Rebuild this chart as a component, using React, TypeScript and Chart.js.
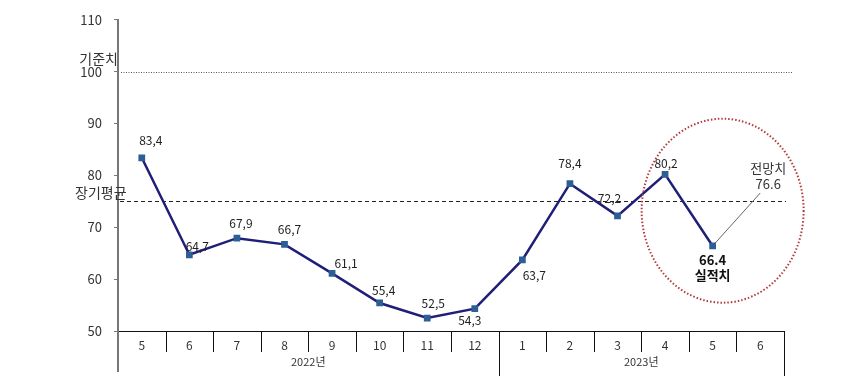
import React, { useEffect, useRef } from 'react';
import { Chart, registerables } from 'chart.js';
Chart.register(...registerables);

const months = ['5', '6', '7', '8', '9', '10', '11', '12', '1', '2', '3', '4', '5', '6'];
const yearGroups = [
  { label: '2022년', from: 0, to: 7 },
  { label: '2023년', from: 8, to: 13 },
];
const actual: (number | null)[] = [83.4, 64.7, 67.9, 66.7, 61.1, 55.4, 52.5, 54.3, 63.7, 78.4, 72.2, 80.2, 66.4, null];
const forecast: (number | null)[] = [null, null, null, null, null, null, null, null, null, null, null, null, 66.4, 76.6];
const actualLabels = ['83,4', '64,7', '67,9', '66,7', '61,1', '55,4', '52,5', '54,3', '63,7', '78,4', '72,2', '80,2', '66.4', ''];
const baselineValue = 100;
const longTermAvg = 75;
const yMin = 50;
const yMax = 110;
const yStep = 10;

// label offsets in px (style only)
const labelOffsets: [number, number][] = [
  [9, -17], [8, -8], [4, -15], [5, -15], [14, -10], [4, -13], [6, -15],
  [-5, 12], [12, 15], [0, -20], [-8, -17], [1, -11], [0, 14], [0, 0],
];

const FONT = '"Noto Sans CJK KR", "DejaVu Sans", sans-serif';

const overlay = {
  id: 'overlay',
  beforeDatasetsDraw(chart: any) {
    const { ctx, chartArea, scales } = chart;
    const y = scales.y;
    ctx.save();
    // baseline dotted
    ctx.strokeStyle = '#555';
    ctx.lineWidth = 1;
    ctx.setLineDash([1, 1.5]);
    const yb = Math.round(y.getPixelForValue(baselineValue)) + 0.5;
    ctx.beginPath();
    ctx.moveTo(chartArea.left + 3, yb);
    ctx.lineTo(chartArea.right + 8, yb);
    ctx.stroke();
    // long-term avg dashed
    ctx.strokeStyle = '#222';
    ctx.setLineDash([4, 3]);
    const ya = Math.round(y.getPixelForValue(longTermAvg)) + 0.5;
    ctx.beginPath();
    ctx.moveTo(chartArea.left + 2, ya);
    ctx.lineTo(chartArea.right + 2, ya);
    ctx.stroke();
    ctx.restore();
  },
  afterDraw(chart: any) {
    const { ctx, chartArea, scales } = chart;
    const x = scales.x;
    const y = scales.y;
    const n = months.length;
    const w = (chartArea.right - chartArea.left) / n;
    const bottom = chartArea.bottom;
    ctx.save();
    // y axis extension
    ctx.strokeStyle = '#777';
    ctx.lineWidth = 2;
    ctx.beginPath();
    ctx.moveTo(chartArea.left, bottom);
    ctx.lineTo(chartArea.left, 372);
    ctx.stroke();
    // category separators
    ctx.strokeStyle = '#111';
    ctx.lineWidth = 1;
    const yearBounds = yearGroups.map((g) => g.to + 1);
    for (let i = 1; i <= n; i++) {
      const xx = Math.round(chartArea.left + i * w) + 0.5;
      const longLine = yearBounds.includes(i);
      ctx.beginPath();
      ctx.moveTo(xx, bottom);
      ctx.lineTo(xx, longLine ? 376 : bottom + 21);
      ctx.stroke();
    }
    // year labels
    ctx.fillStyle = '#333';
    ctx.font = `11px ${FONT}`;
    ctx.textAlign = 'center';
    ctx.textBaseline = 'middle';
    yearGroups.forEach((g) => {
      const cx = chartArea.left + ((g.from + g.to + 1) / 2) * w;
      ctx.fillText(g.label, cx, 362);
    });
    // side labels
    ctx.font = `14px ${FONT}`;
    ctx.fillStyle = '#333';
    ctx.textAlign = 'right';
    ctx.fillText('기준치', chartArea.left, y.getPixelForValue(baselineValue) - 13);
    ctx.textAlign = 'left';
    ctx.fillText('장기평균', 75, y.getPixelForValue(longTermAvg) - 9);
    // data labels
    ctx.font = `12px ${FONT}`;
    ctx.fillStyle = '#222';
    ctx.textAlign = 'center';
    actual.forEach((v, i) => {
      if (v == null || i === 12) return;
      const px = x.getPixelForValue(i);
      const py = y.getPixelForValue(v);
      ctx.fillText(actualLabels[i], px + labelOffsets[i][0], py + labelOffsets[i][1]);
    });
    // highlighted actual
    const px12 = x.getPixelForValue(12);
    const py12 = y.getPixelForValue(actual[12] as number);
    ctx.font = `bold 13px ${FONT}`;
    ctx.fillStyle = '#111';
    ctx.fillText(actualLabels[12], px12, py12 + 14);
    ctx.fillText('실적치', px12, py12 + 29);
    // forecast label
    const px13 = x.getPixelForValue(13);
    const py13 = y.getPixelForValue(forecast[13] as number);
    ctx.font = `13px ${FONT}`;
    ctx.fillStyle = '#333';
    ctx.fillText('전망치', px13 + 8, py13 - 25);
    ctx.fillText(String(forecast[13]), px13 + 8, py13 - 9);
    // ellipse
    ctx.strokeStyle = '#b23a3a';
    ctx.lineWidth = 2;
    ctx.setLineDash([1.5, 2]);
    ctx.beginPath();
    ctx.ellipse(px12 + 10, y.getPixelForValue(73.2), 81, 92, 0, 0, Math.PI * 2);
    ctx.stroke();
    ctx.restore();
  },
};

export default function App() {
  const ref = useRef<HTMLCanvasElement>(null);
  useEffect(() => {
    if (!ref.current) return;
    const chart = new Chart(ref.current, {
      type: 'line',
      data: {
        labels: months,
        datasets: [
          {
            data: actual,
            borderColor: '#1f1f78',
            borderWidth: 2.5,
            pointStyle: 'rect',
            pointRadius: 3,
            pointBackgroundColor: '#2e5e96',
            pointBorderColor: '#2e5e96',
            tension: 0,
            spanGaps: false,
          },
          {
            data: forecast,
            borderColor: '#666',
            borderWidth: 1,
            pointRadius: 0,
            tension: 0,
          },
        ],
      },
      options: {
        animation: false,
        responsive: false,
        layout: { padding: { top: 18, right: 66, left: 0, bottom: 0 } },
        plugins: { legend: { display: false }, tooltip: { enabled: false } },
        scales: {
          x: {
            type: 'category',
            offset: true,
            grid: { display: false, drawTicks: false },
            border: { display: true, color: '#111', width: 1 },
            ticks: { color: '#333', font: { size: 12, family: FONT }, padding: 7, maxRotation: 0, autoSkip: false },
            afterFit: (s: any) => { s.height = 45; },
          },
          y: {
            min: yMin,
            max: yMax,
            ticks: { stepSize: yStep, color: '#333', font: { size: 13, family: FONT }, padding: 12 },
            grid: { drawOnChartArea: false, tickLength: 4, color: '#777' },
            border: { display: true, color: '#777', width: 2 },
            afterFit: (s: any) => { s.width = 118; },
          },
        },
      },
      plugins: [overlay],
    });
    return () => chart.destroy();
  }, []);
  return (
    <div style={{ position: 'fixed', left: 0, top: 0, width: 850, height: 376, background: '#fff' }}>
      <canvas ref={ref} width={850} height={376} style={{ width: 850, height: 376 }} />
    </div>
  );
}
